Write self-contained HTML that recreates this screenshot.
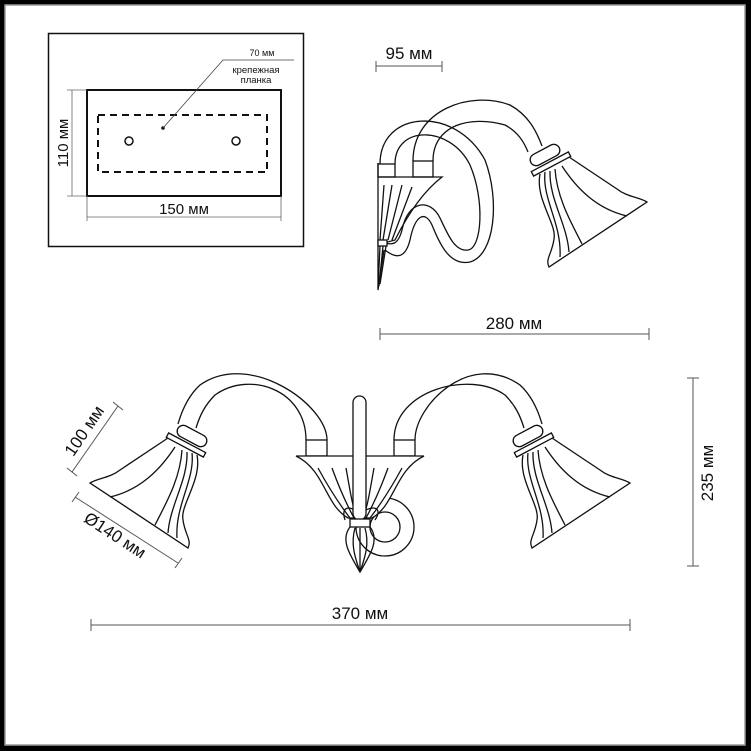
<!DOCTYPE html>
<html><head><meta charset="utf-8"><style>
html,body{margin:0;padding:0;background:#000;}
svg{display:block}
text{font-family:"Liberation Sans",sans-serif;fill:#111}
</style></head><body>
<svg width="751" height="751" viewBox="0 0 751 751" xmlns="http://www.w3.org/2000/svg">
<rect x="0" y="0" width="751" height="751" fill="#000"/>
<rect x="5" y="5" width="740" height="740" fill="#fff" stroke="#999" stroke-width="1.5"/>

<!-- inset -->
<rect x="48.5" y="33.5" width="255" height="213" fill="#fff" stroke="#111" stroke-width="1.5"/>
<rect x="87" y="90" width="194" height="106" fill="none" stroke="#111" stroke-width="2"/>
<rect x="98" y="115" width="169" height="57" fill="none" stroke="#111" stroke-width="2" stroke-dasharray="7,5"/>
<circle cx="129" cy="141" r="4" fill="none" stroke="#111" stroke-width="1.5"/>
<circle cx="236" cy="141" r="4" fill="none" stroke="#111" stroke-width="1.5"/>
<circle cx="163" cy="128" r="1.8" fill="#111"/>
<polyline points="163,128 223,60 294,60" fill="none" stroke="#444" stroke-width="0.8"/>
<text x="262" y="56" font-size="9" text-anchor="middle">70 мм</text>
<text x="256" y="73" font-size="9.5" text-anchor="middle">крепежная</text>
<text x="256" y="83" font-size="9.5" text-anchor="middle">планка</text>
<g stroke="#666" stroke-width="0.8"><line x1="72" y1="90" x2="72" y2="196"/><line x1="67" y1="90" x2="87" y2="90"/><line x1="67" y1="196" x2="87" y2="196"/>
<line x1="87" y1="217" x2="281" y2="217"/><line x1="87" y1="196" x2="87" y2="221"/><line x1="281" y1="196" x2="281" y2="221"/></g>
<text x="0" y="0" font-size="15" text-anchor="middle" transform="translate(68,143) rotate(-90)">110 мм</text>
<text x="184" y="214" font-size="15" text-anchor="middle">150 мм</text>

<!-- top dims -->
<g stroke="#555" stroke-width="1"><line x1="376" y1="66" x2="442" y2="66"/><line x1="376" y1="61" x2="376" y2="72"/><line x1="442" y1="61" x2="442" y2="72"/>
<line x1="380" y1="334" x2="649" y2="334"/><line x1="380" y1="328" x2="380" y2="340"/><line x1="649" y1="328" x2="649" y2="340"/></g>
<text x="409" y="59" font-size="17" text-anchor="middle">95 мм</text>
<text x="514" y="329" font-size="17" text-anchor="middle">280 мм</text>

<defs>
<g id="shade" fill="none" stroke="#111" stroke-width="1.3">
<path d="M523,455 C518,480 540,505 537,520 C535,535 528,540 532,548 L630,483 C622,478 610,478 600,470 C585,460 570,450 552,438" fill="#fff"/>
<path d="M528,453 C525,480 545,505 543,538"/>
<path d="M533,452 C532,480 550,505 552,533"/>
<path d="M538,450 C540,480 555,505 565,525"/>
<path d="M545,447 C560,470 580,490 610,497"/>
<rect x="-21" y="-2.5" width="42" height="5" transform="translate(534,445) rotate(-28)" fill="#fff"/>
<rect x="-16" y="-6" width="32" height="12" rx="6" transform="translate(528,436) rotate(-28)" fill="#fff"/>
</g>
</defs>

<!-- side view lamp -->
<g fill="none" stroke="#111" stroke-width="1.3">
<path d="M413,161 C413,110 470,90 510,105 C528,115 536,130 542,146"/>
<path d="M433,161 C433,125 470,115 505,125 C518,132 524,142 528,152"/>
<path d="M380,164 C380,110 455,105 485,160 C500,200 495,255 470,262 C450,266 440,245 432,225 C425,210 415,215 410,240 C405,260 395,258 385,250"/>
<path d="M395,164 C395,125 450,125 470,165 C485,200 482,248 468,250 C455,252 448,235 440,218 C430,198 408,200 402,230 C398,245 392,245 385,243"/>
<rect x="378" y="164" width="17" height="13" fill="#fff"/>
<rect x="413" y="161" width="20" height="16" fill="#fff"/>
<path d="M378,163 L378,290 L384,250"/>
<path d="M378,177 L442,177 C425,190 410,210 395,240 L384,243"/>
<path d="M384,185 L380,240 M392,185 L383,240 M402,185 L388,240 M412,187 L392,240"/>
<rect x="378" y="240" width="9" height="6" fill="#fff"/>
<path d="M380,246 L378,288 M383,246 L379,286 M386,246 L380,284"/>
</g>
<use href="#shade" transform="translate(17,-281)"/>

<!-- front view -->
<g fill="none" stroke="#111" stroke-width="1.3">
<path d="M306,440 C306,390 250,370 215,395 C205,405 200,415 196,428"/>
<path d="M327,440 C327,405 250,350 200,385 C188,396 182,410 178,424"/>
<path d="M394,440 C394,390 470,370 505,395 C515,405 520,415 524,428"/>
<path d="M415,440 C415,405 470,350 520,385 C532,396 538,410 542,424"/>
<rect x="306" y="440" width="21" height="16" fill="#fff"/>
<rect x="394" y="440" width="21" height="16" fill="#fff"/>
<circle cx="385" cy="527" r="29"/>
<circle cx="385" cy="527" r="15"/>
<path d="M296,456 L424,456 C395,470 395,505 372,518 L348,518 C325,505 325,470 296,456 Z" fill="#fff"/>
<path d="M318,468 C330,490 340,505 350,518 M332,468 C340,490 347,505 354,518 M346,468 C350,490 352,505 357,518 M402,468 C390,490 380,505 370,518 M388,468 C380,490 373,505 366,518 M374,468 C370,490 368,505 363,518"/>
<path d="M345,520 C340,505 352,505 360,515 C368,505 385,505 375,520"/>
<rect x="353" y="396" width="13" height="124" rx="6.5" fill="#fff"/>
<rect x="350" y="519" width="20" height="8" fill="#fff"/>
<path d="M350,527 C340,540 350,555 360,572 C370,555 380,540 370,527"/>
<path d="M355,528 C350,545 356,560 360,572 M365,528 C370,545 364,560 360,572 M360,528 L360,572"/>
</g>
<use href="#shade"/>
<use href="#shade" transform="translate(720,0) scale(-1,1)"/>

<!-- bottom dims -->
<g stroke="#555" stroke-width="1">
<line x1="91" y1="625" x2="630" y2="625"/><line x1="91" y1="619" x2="91" y2="631"/><line x1="630" y1="619" x2="630" y2="631"/>
<line x1="693" y1="378" x2="693" y2="566"/><line x1="687" y1="378" x2="699" y2="378"/><line x1="687" y1="566" x2="699" y2="566"/>
<line x1="118" y1="406" x2="72" y2="472"/><line x1="113" y1="402" x2="123" y2="410"/><line x1="67" y1="468" x2="77" y2="476"/>
<line x1="75" y1="497" x2="178" y2="563"/><line x1="72" y1="502" x2="79" y2="492"/><line x1="175" y1="568" x2="182" y2="558"/>
</g>
<text x="360" y="619" font-size="17" text-anchor="middle">370 мм</text>
<text font-size="17" text-anchor="middle" transform="translate(713,473) rotate(-90)">235 мм</text>
<text font-size="17" text-anchor="middle" transform="translate(89,434) rotate(-56)">100 мм</text>
<text font-size="17" text-anchor="middle" transform="translate(112,540) rotate(33)">Ø140 мм</text>
</svg>
</body></html>
